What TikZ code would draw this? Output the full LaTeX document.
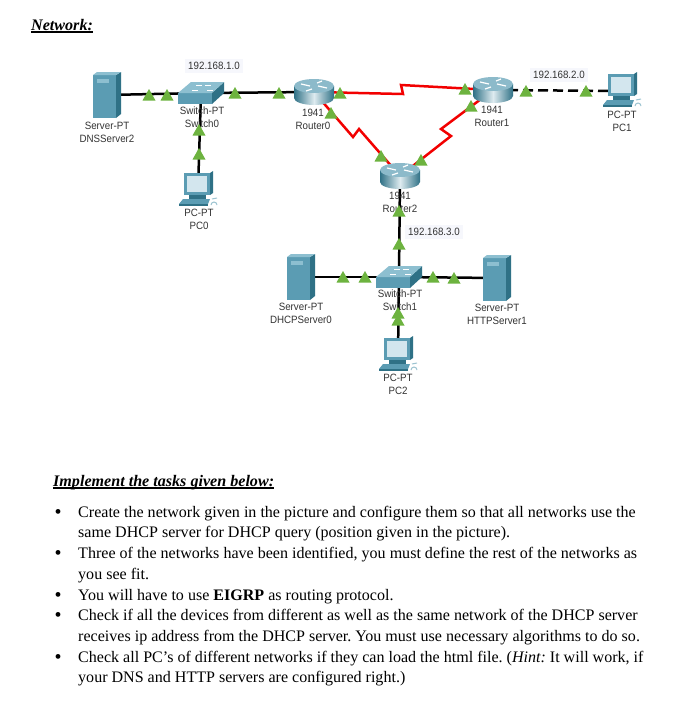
\documentclass[tikz,border=0pt]{standalone}
\usepackage{fontspec}
\setmainfont{Liberation Serif}
\newfontfamily\lab{Liberation Sans}
\usetikzlibrary{calc}
\frenchspacing
\definecolor{srvA}{HTML}{5B9CB3}
\definecolor{srvB}{HTML}{2F7186}
\definecolor{srvC}{HTML}{8DBFD0}
\definecolor{scrn}{HTML}{D3E6EE}
\definecolor{lnk}{HTML}{6DB33F}
\definecolor{bgl}{HTML}{F6F7FC}
\newcommand{\thul}[1]{\leavevmode\setbox0\hbox{#1}\rlap{\rule[-2.8pt]{\wd0}{1.4pt}}\box0}
\tikzset{
  x=1pt,y=-1pt,
  anchorbox/.style={inner sep=0pt,outer sep=0pt,minimum width=#1},
  devlabel/.style={font=\lab\fontsize{10.6}{12.9}\selectfont,align=center,inner sep=0pt,text=black!80,xscale=.92,transform shape},
  netlabel/.style={font=\lab\fontsize{10.6}{12}\selectfont,fill=bgl,inner xsep=3pt,inner ysep=3pt,text=black!80,xscale=.92,transform shape},
  eth/.style={line width=2.5pt,black},
  serial/.style={line width=2.5pt,red!95!black},
  headline/.style={inner sep=0pt,anchor=base west,font=\fontsize{16.1}{18}\selectfont\bfseries\itshape},
  body/.style={font=\fontsize{16.05}{21}\selectfont,anchor=base west,inner sep=0pt},
  bulletmark/.style={font=\fontsize{20}{20}\selectfont,anchor=base west,inner sep=0pt},
  pics/serverdev/.style={code={
    \fill[srvA] (-14,-20) -- (9,-20) -- (9,23) -- (-14,23) -- cycle;
    \fill[srvB] (9,-20) -- (14,-23) -- (14,19) -- (9,23) -- cycle;
    \fill[srvC] (-14,-20) -- (-10,-23) -- (14,-23) -- (9,-20) -- cycle;
    \fill[srvC] (-10,-16) rectangle (2,-12);
  }},
  pics/switchdev/.style={code={
    \fill[srvA] (-23,0) -- (11,0) -- (11,11) -- (-23,11) -- cycle;
    \fill[srvB] (11,0) -- (23,-11) -- (23,0) -- (11,11) -- cycle;
    \fill[srvC] (-23,0) -- (-10,-11) -- (23,-11) -- (11,0) -- cycle;
    \draw[white,line width=.5pt] (-9,-3) -- (-3,-3) (4,-8) -- (10,-8) (-5,-8) -- (1,-8) (6,-3) -- (12,-3);
  }},
  pics/routerdev/.style={code={
    \shade[left color=srvB,right color=srvB,middle color=white!80!srvA]
      (-20,-6) -- (-20,6) arc[start angle=180,end angle=0,x radius=20,y radius=7] -- (20,-6) -- cycle;
    \fill[srvA!70!white] (0,-6) ellipse[x radius=20,y radius=7];
    \draw[white,line width=1.2pt] (-13,-8) -- (-4,-6) (4,-6) -- (13,-4) (-2,-3) -- (-8,-1) (3,-9) -- (8,-11);
  }},
  pics/pcdev/.style={code={
    \fill[srvA] (-14,-17) -- (12,-17) -- (12,5) -- (-14,5) -- cycle;
    \fill[srvB] (12,-17) -- (15,-19) -- (15,3) -- (12,5) -- cycle;
    \fill[scrn] (-11,-14) rectangle (9,2);
    \fill[srvB] (-9,5) rectangle (8,9);
    \fill[srvA] (-15,9) -- (12,9) -- (10,14) -- (-19,14) -- cycle;
    \fill[srvB] (-19,14) rectangle (10,16);
    \draw[srvA!60!white,line width=1pt] (14,9) -- (19,8) (13,15) arc[start angle=180,end angle=360,radius=3];
  }},
}
\newcommand{\lnkmark}[2]{\fill[lnk] ($(#1,#2)+(-6.5,5.5)$) -- ($(#1,#2)+(6.5,5.5)$) -- ($(#1,#2)+(0,-6)$) -- cycle;}
\begin{document}
\begin{tikzpicture}
\useasboundingbox (0,0) rectangle (690,710);
\fill[white] (0,0) rectangle (690,710);

% anchors of the devices
\node[anchorbox=1pt] (dns) at (107,95) {};
\node[anchorbox=1pt] (sw0) at (201,93) {};
\node[anchorbox=1pt] (r0) at (314,92) {};
\node[anchorbox=1pt] (pc0) at (198,190) {};
\node[anchorbox=1pt] (r1) at (493,90) {};
\node[anchorbox=1pt] (pc1) at (622,91) {};
\node[anchorbox=1pt] (r2) at (400,176) {};
\node[anchorbox=1pt] (sw1) at (399,277) {};
\node[anchorbox=1pt] (dhcp) at (301,277) {};
\node[anchorbox=1pt] (http) at (497,278) {};
\node[anchorbox=1pt] (pc2) at (398,355) {};

% zig-zag bends of the serial links
\coordinate (z1a) at (401,85);
\coordinate (z1b) at (403,94);
\coordinate (z2a) at (353,137);
\coordinate (z2b) at (359,129);
\coordinate (z3a) at (451,136);
\coordinate (z3b) at (441,129);

% connectors
\draw[eth] (dns.center) -- (sw0.center);
\draw[eth] (sw0.center) -- (r0.center);
\draw[eth] (sw0.center) -- (pc0.center);
\draw[eth] (r2.center) -- (sw1.center);
\draw[eth] (dhcp.center) -- (sw1.center);
\draw[eth] (sw1.center) -- (http.center);
\draw[eth] (sw1.center) -- (pc2.center);
\draw[eth,dash pattern=on 10pt off 5pt] (r1.center) -- (pc1.center);
\draw[serial,line join=miter] (r0.center) -- (z1b) -- (z1a) -- (r1.center);
\draw[serial,line join=miter] (r0.center) -- (z2a) -- (z2b) -- (r2.center);
\draw[serial,line join=miter] (r1.center) -- (z3b) -- (z3a) -- (r2.center);

% devices
\path (dns) pic {serverdev};
\path (dhcp) pic {serverdev};
\path (http) pic {serverdev};
\path (sw0) pic {switchdev};
\path (sw1) pic {switchdev};
\path (r0) pic {routerdev};
\path (r1) pic {routerdev};
\path (r2) pic {routerdev};
\path (pc0) pic {pcdev};
\path (pc1) pic {pcdev};
\path (pc2) pic {pcdev};

% device labels
\node[devlabel] (ldns) at (107,132) {Server-PT\\DNSServer2};
\node[devlabel] (lsw0) at (202,117) {Switch-PT\\Switch0};
\node[devlabel] (lr0) at (313,119) {1941\\Router0};
\node[devlabel] (lpc0) at (199,219) {PC-PT\\PC0};
\node[devlabel] (lr1) at (492,116) {1941\\Router1};
\node[devlabel] (lpc1) at (622,121) {PC-PT\\PC1};
\node[devlabel] (lr2) at (400,202) {1941\\Router2};
\node[devlabel] (lsw1) at (400,300) {Switch-PT\\Switch1};
\node[devlabel] (ldhcp) at (301,313) {Server-PT\\DHCPServer0};
\node[devlabel] (lhttp) at (497,314) {Server-PT\\HTTPServer1};
\node[devlabel] (lpc2) at (398,384) {PC-PT\\PC2};

% network labels
\node[netlabel] (n1) at (214,66) {192.168.1.0};
\node[netlabel] (n2) at (559,75) {192.168.2.0};
\node[netlabel] (n3) at (434,232) {192.168.3.0};

% link lights
\lnkmark{149}{95}\lnkmark{167}{95}\lnkmark{235}{93}\lnkmark{279}{93}
\lnkmark{340}{93}\lnkmark{331}{113}\lnkmark{199}{130}\lnkmark{199}{154}
\lnkmark{465}{89}\lnkmark{471}{106}\lnkmark{526}{91}\lnkmark{586}{91}
\lnkmark{381}{156}\lnkmark{421}{160}\lnkmark{399}{211}\lnkmark{399}{244}
\lnkmark{343}{277}\lnkmark{365}{277}\lnkmark{433}{277}\lnkmark{454}{278}
\lnkmark{398}{313}
\lnkmark{398}{320}

% text
\node[headline] (t1) at (31,30) {\thul{Network:}};
\node[headline] (t2) at (53,486) {\thul{Implement the tasks given below:}};
\node[body] (b1) at (78,517) {Create the network given in the picture and configure them so that all networks use the};
\node[body] (b2) at (78,537) {same DHCP server for DHCP query (position given in the picture).};
\node[body] (b3) at (78,558) {Three of the networks have been identified, you must define the rest of the networks as};
\node[body] (b4) at (78,579) {you see fit.};
\node[body] (b5) at (78,600) {You will have to use \textbf{EIGRP} as routing protocol.};
\node[body] (b6) at (78,620) {Check if all the devices from different as well as the same network of the DHCP server};
\node[body] (b7) at (78,641) {receives ip address from the DHCP server. You must use necessary algorithms to do so.};
\node[body] (b8) at (78,662) {Check all PC’s of different networks if they can load the html file. (\textit{Hint:} It will work, if};
\node[body] (b9) at (78,682) {your DNS and HTTP servers are configured right.)};
\foreach \yy/\nn in {518/c1,559/c2,601/c3,621/c4,663/c5}
  \node[bulletmark] (\nn) at (54.5,\yy) {•};
\end{tikzpicture}
\end{document}
